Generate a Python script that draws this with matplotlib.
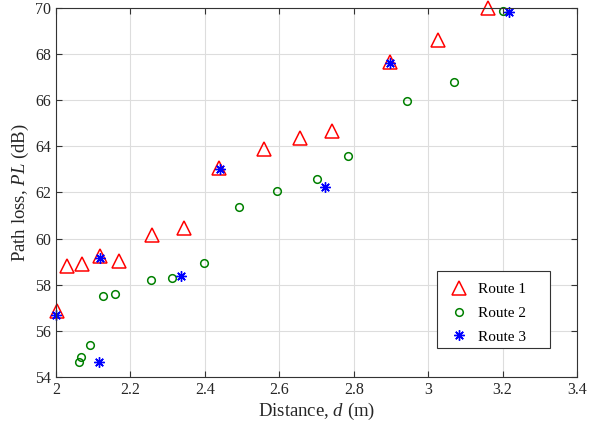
import numpy as np
import matplotlib.pyplot as plt
from matplotlib.patches import Rectangle

plt.rcParams['font.family'] = ['Liberation Serif', 'DejaVu Serif']
plt.rcParams['mathtext.fontset'] = 'custom'
plt.rcParams['mathtext.rm'] = 'Liberation Serif'
plt.rcParams['mathtext.it'] = 'Liberation Serif:italic'

# Route 1
d1 = [2.003, 2.03, 2.07, 2.118, 2.17, 2.258, 2.344, 2.438, 2.559, 2.656, 2.742, 2.898, 3.027, 3.16]
pl1 = [56.85, 58.8, 58.9, 59.25, 59.05, 60.15, 60.45, 63.05, 63.9, 64.35, 64.65, 67.65, 68.6, 70.0]
# Route 2
d2 = [2.062, 2.067, 2.091, 2.126, 2.159, 2.255, 2.312, 2.398, 2.492, 2.594, 2.701, 2.785, 2.943, 3.07, 3.2]
pl2 = [54.65, 54.85, 55.4, 57.5, 57.6, 58.2, 58.3, 58.95, 61.37, 62.05, 62.58, 63.58, 65.95, 66.8, 69.87]
# Route 3
d3 = [2.0, 2.116, 2.118, 2.336, 2.44, 2.723, 2.898, 3.218]
pl3 = [56.7, 54.65, 59.18, 58.38, 63.02, 62.25, 67.6, 69.83]

fig = plt.figure(figsize=(6, 4.28), dpi=100)
ax = fig.add_axes([0.0933, 0.1192, 0.8684, 0.8621])

ax.plot(d1, pl1, linestyle='none', marker='^', markersize=10, markerfacecolor='none',
        markeredgecolor='red', markeredgewidth=1.1, label='Route 1', clip_on=False)
ax.plot(d2, pl2, linestyle='none', marker='o', markersize=5.5, markerfacecolor='none',
        markeredgecolor='green', markeredgewidth=1.1, label='Route 2', clip_on=False)
ax.plot(d3, pl3, linestyle='none', marker=(8, 2, 0), markersize=7.5,
        markeredgecolor='blue', color='blue', markeredgewidth=1.0, label='Route 3', clip_on=False)

ax.set_xlim(2, 3.4)
ax.set_ylim(54, 70)
ax.set_xticks(np.arange(2, 3.41, 0.2))
ax.set_xticklabels(['2', '2.2', '2.4', '2.6', '2.8', '3', '3.2', '3.4'])
ax.set_yticks(np.arange(54, 70.1, 2))
ax.grid(True, color='#dddddd', linewidth=0.8)
ax.set_axisbelow(True)
ax.tick_params(direction='in', top=True, right=True, labelsize=11.5, length=4,
               color='#333333', labelcolor='#262626')
for s in ax.spines.values():
    s.set_color('#333333')
    s.set_linewidth(0.8)

ax.set_xlabel('Distance, $\\it{d}$ (m)', fontsize=13.5, labelpad=2, color='#262626')
ax.set_ylabel('Path loss, $\\it{PL}$ (dB)', fontsize=13.5, labelpad=3, color='#262626')

# legend box drawn separately, MATLAB style with extra room on the right
ax.add_patch(Rectangle((0.731, 0.0786), 0.217, 0.2084, transform=ax.transAxes,
                       facecolor='white', edgecolor='#333333', linewidth=0.8, zorder=4))
leg = ax.legend(loc='upper left', bbox_to_anchor=(0.731, 0.287), borderaxespad=0,
                fontsize=11, frameon=False, borderpad=0.76, labelspacing=0.65,
                handlelength=1.38, handletextpad=0.56)
leg.set_zorder(5)

plt.savefig('out.png', dpi=100)
plt.close()
